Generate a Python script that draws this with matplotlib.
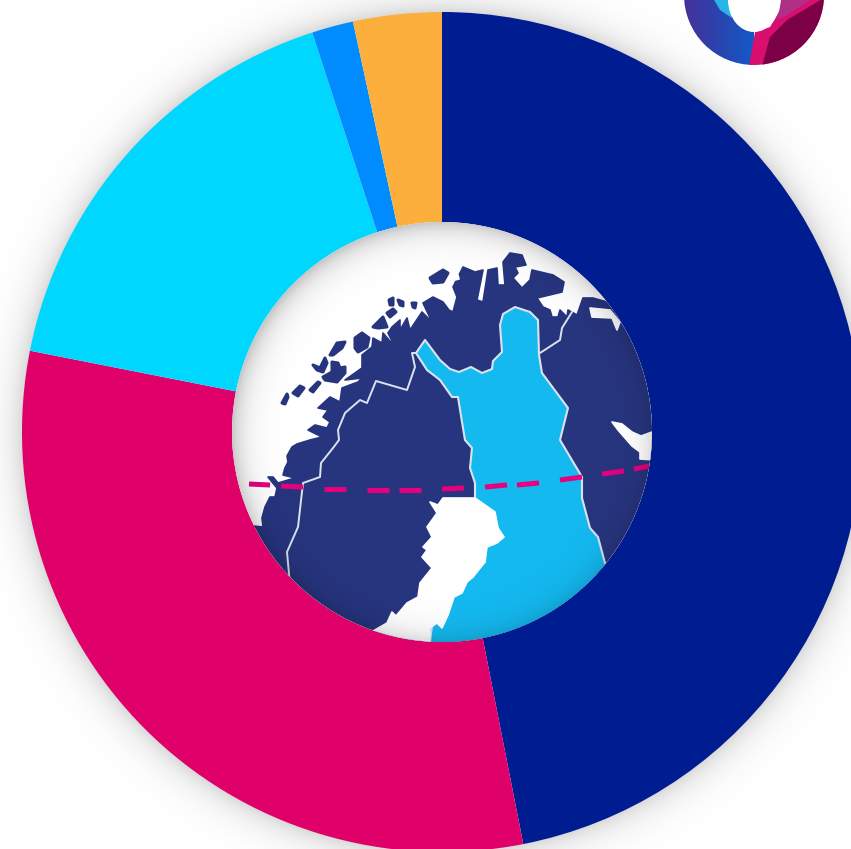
"""
Donut chart with a map of northern Scandinavia in the hole.
Outputs out.png
"""

import matplotlib

matplotlib.use("Agg")
import matplotlib.pyplot as plt
import numpy as np
from matplotlib.patches import Circle, Ellipse, Polygon

# Slice shares, clockwise from the top
shares = [46.9, 31.2, 16.9, 1.6, 3.4]
slice_colors = ["#001C91", "#E0006A", "#00D7FF", "#008CFF", "#FCAF3C"]

LAND = "#27357F"
FINLAND = "#14B9F0"
BORDER = "#DCE2EE"
ARCTIC = "#E6007E"

# Map outlines
land = [
    (253, 526), (263, 527), (262, 518), (265, 507), (270, 497), (275, 497), (277, 488), (272, 482),
    (268, 477), (273, 477), (278, 483), (295, 478), (283, 475), (285, 468), (288, 462), (287, 456),
    (292, 447), (297, 444), (310, 440), (322, 437), (308, 430), (315, 425), (327, 428), (330, 422),
    (323, 417), (328, 410), (318, 408), (330, 397), (340, 402), (342, 388), (358, 382), (362, 378),
    (345, 380), (362, 368), (362, 355), (372, 347), (373, 338), (382, 343), (383, 333), (395, 347),
    (388, 333), (392, 327), (400, 320), (400, 330), (407, 318), (410, 330), (422, 312), (432, 322),
    (423, 303), (433, 297), (443, 302), (449, 310), (453, 312), (457, 297), (453, 287), (463, 267),
    (475, 272), (483, 270), (477, 300), (483, 302), (488, 270), (497, 268), (498, 285), (505, 285),
    (503, 262), (510, 253), (522, 255), (526, 265), (515, 267), (518, 273), (513, 278), (522, 288),
    (530, 280), (532, 270), (553, 275), (564, 282), (562, 292), (537, 298), (543, 307), (550, 310),
    (552, 317), (558, 317), (560, 310), (567, 317), (568, 310), (577, 315), (583, 298), (593, 298),
    (607, 302), (700, 300), (700, 700), (260, 700),
]
islands = [
    [(282, 403), (287, 394), (288, 397), (285, 404)],
    [(293, 393), (300, 386), (304, 388), (298, 396)],
    [(310, 390), (318, 382), (320, 383), (313, 392)],
    [(313, 365), (320, 368), (325, 358), (327, 363), (323, 372), (317, 370)],
    [(323, 377), (332, 372), (332, 362), (338, 363), (340, 368), (345, 367), (345, 373), (337, 382), (325, 380)],
    [(330, 355), (337, 343), (345, 342), (342, 348), (333, 355)],
    [(355, 338), (362, 333), (369, 338), (367, 347), (358, 352), (355, 348)],
    [(373, 327), (383, 317), (387, 327), (378, 328)],
    [(387, 313), (393, 309), (396, 312), (390, 317)],
    [(389, 300), (393, 298), (393, 305), (390, 305)],
    [(398, 300), (403, 302), (403, 306), (400, 305)],
    [(412, 303), (416, 303), (415, 308), (413, 307)],
    [(430, 278), (443, 270), (448, 273), (443, 282), (433, 283)],
]
sea_patches = [
    [(445, 288), (450, 285), (452, 290), (447, 293)],
    [(454, 276), (458, 275), (459, 279), (455, 280)],
    [(590, 308), (610, 310), (620, 322), (617, 330), (612, 318), (592, 317)],
    [(612, 422), (622, 424), (632, 432), (641, 436), (652, 432), (655, 460), (640, 459),
     (640, 452), (632, 446), (625, 438), (618, 430)],
]
finland = [
    (425, 340), (416, 353), (427, 370), (440, 380), (452, 397), (458, 397), (462, 422), (465, 440),
    (472, 448), (470, 468), (475, 483), (475, 498), (440, 560), (429, 650), (500, 680), (620, 600),
    (605, 563), (598, 537), (590, 528), (582, 498), (582, 477), (560, 440), (568, 408), (542, 373),
    (539, 355), (538, 320), (530, 312), (515, 307), (503, 314), (500, 325), (502, 352), (493, 361),
    (492, 369), (482, 373), (471, 367), (459, 372), (450, 369), (440, 360),
]
bothnia = [
    (430, 502), (438, 505), (443, 498), (453, 498), (475, 498), (495, 512), (498, 528), (504, 537),
    (497, 543), (487, 547), (485, 562), (473, 577), (467, 582), (462, 593), (454, 597), (448, 615),
    (442, 628), (437, 623), (430, 628), (429, 650), (370, 650), (373, 631), (387, 623), (392, 612),
    (396, 616), (407, 603), (418, 597), (420, 583), (432, 568), (422, 557), (427, 550), (423, 547),
    (432, 537), (427, 527), (437, 513),
]
sweden_norway = [
    (290, 585), (287, 552), (298, 527), (303, 483), (320, 477), (321, 463), (333, 448), (339, 440),
    (338, 430), (345, 413), (360, 400), (367, 403), (376, 381), (407, 390), (415, 367), (412, 353), (416, 353),
]
norway_russia = [(540, 353), (560, 340), (562, 328), (572, 312)]
arctic_dashes = [
    [(249, 484), (270, 485)], [(281, 486), (303, 487)], [(324, 489), (346, 489)], [(367, 490), (389, 490)],
    [(399, 490), (421, 490)], [(442, 489), (464, 488)], [(485, 487), (507, 485)], [(517, 485), (539, 483)],
    [(560, 480), (582, 477)], [(602, 474), (624, 471)], [(634, 469), (649, 466)],
]

# Logo pieces in the top right corner
logo_pink = [(749, 66), (755, 32), (770, 27), (780, 10), (782, -10), (830, -10), (830, 70)]
logo_maroon = [(762, 66), (770, 37), (787, 20), (824, -2), (835, 20), (810, 70)]
logo_purple = [(782, -2), (813, -2), (787, 15), (777, 20)]
logo_cyan = [(713, -2), (720, 10), (732, 18), (728, -2)]

W, H = 851, 849
CX, CY = 442, 432
R_OUT, R_IN = 420, 210

fig = plt.figure(figsize=(W / 100, H / 100), dpi=100)
ax = fig.add_axes([0, 0, 1, 1])

yy, xx = np.mgrid[0:H, 0:W] + 0.5
rr = np.hypot(xx - CX, yy - CY)

# soft glow under the ring
glow = np.zeros((H, W, 4))
glow[..., 3] = np.where(rr > R_OUT - 3, 0.15 * np.exp(-(rr - R_OUT) / 15), 0)
ax.imshow(glow, extent=(0, W, H, 0), zorder=1, interpolation="bilinear")

# y axis points down here, so -90 with counterclock gives clockwise from the top
ax.pie(
    shares,
    colors=slice_colors,
    startangle=-90,
    counterclock=True,
    center=(CX, CY),
    radius=R_OUT,
    wedgeprops={"width": R_OUT - R_IN, "linewidth": 0, "zorder": 2},
)

hole = Circle((CX, CY), R_IN, facecolor="white", edgecolor="none", zorder=3)
ax.add_patch(hole)


def add_map_poly(pts, color, z, edge=None, lw=1.2):
    p = Polygon(pts, closed=True, facecolor=color, edgecolor=edge or color, lw=lw, joinstyle="round", zorder=z)
    ax.add_patch(p)
    p.set_clip_path(hole)


add_map_poly(land, LAND, 4)
for isl in islands:
    add_map_poly(isl, LAND, 4, lw=2.2)
for sea in sea_patches:
    add_map_poly(sea, "white", 5)
add_map_poly(finland, FINLAND, 6, edge=BORDER, lw=1.5)
add_map_poly(bothnia, "white", 7)

for border in (sweden_norway, norway_russia):
    bx, by = zip(*border)
    ln, = ax.plot(bx, by, color=BORDER, lw=1.4, zorder=6, solid_joinstyle="round")
    ln.set_clip_path(hole)

for dash in arctic_dashes:
    dx, dy = zip(*dash)
    ln, = ax.plot(dx, dy, color=ARCTIC, lw=3.6, zorder=8, solid_capstyle="butt")
    ln.set_clip_path(hole)

# inner shadow, a little heavier on the upper left
rr_in = np.hypot(xx - (CX + 3), yy - (CY + 3))
inner = np.zeros((H, W, 4))
inner[..., 3] = 0.22 * np.exp(-np.clip(R_IN + 3 - rr_in, 0, None) / 13)
im = ax.imshow(inner, extent=(0, W, H, 0), zorder=9, interpolation="bilinear")
im.set_clip_path(hole)

# logo ring, cut off by the top edge
logo_ring = Circle((754, -5), 70, facecolor="none", edgecolor="none")
ax.add_patch(logo_ring)
grad = np.linspace(0, 1, 70)[None, :]
cmap = matplotlib.colors.LinearSegmentedColormap.from_list("logo", ["#46309A", "#2A45AE", "#1259C8"])
lg = ax.imshow(grad, extent=(684, 754, 70, -5), cmap=cmap, zorder=10, aspect="auto")
lg.set_clip_path(logo_ring)
for pts, col in [(logo_cyan, "#27B5E8"), (logo_pink, "#D90F70"), (logo_purple, "#B03088"), (logo_maroon, "#7B0045")]:
    p = Polygon(pts, closed=True, facecolor=col, edgecolor="none", zorder=11)
    ax.add_patch(p)
    p.set_clip_path(logo_ring)
ax.add_patch(Ellipse((754, 0), 52, 64, facecolor="white", edgecolor="none", zorder=12))

ax.set_xlim(0, W)
ax.set_ylim(H, 0)
ax.set_aspect("auto")
ax.axis("off")

fig.savefig("out.png", dpi=100, facecolor="white")
